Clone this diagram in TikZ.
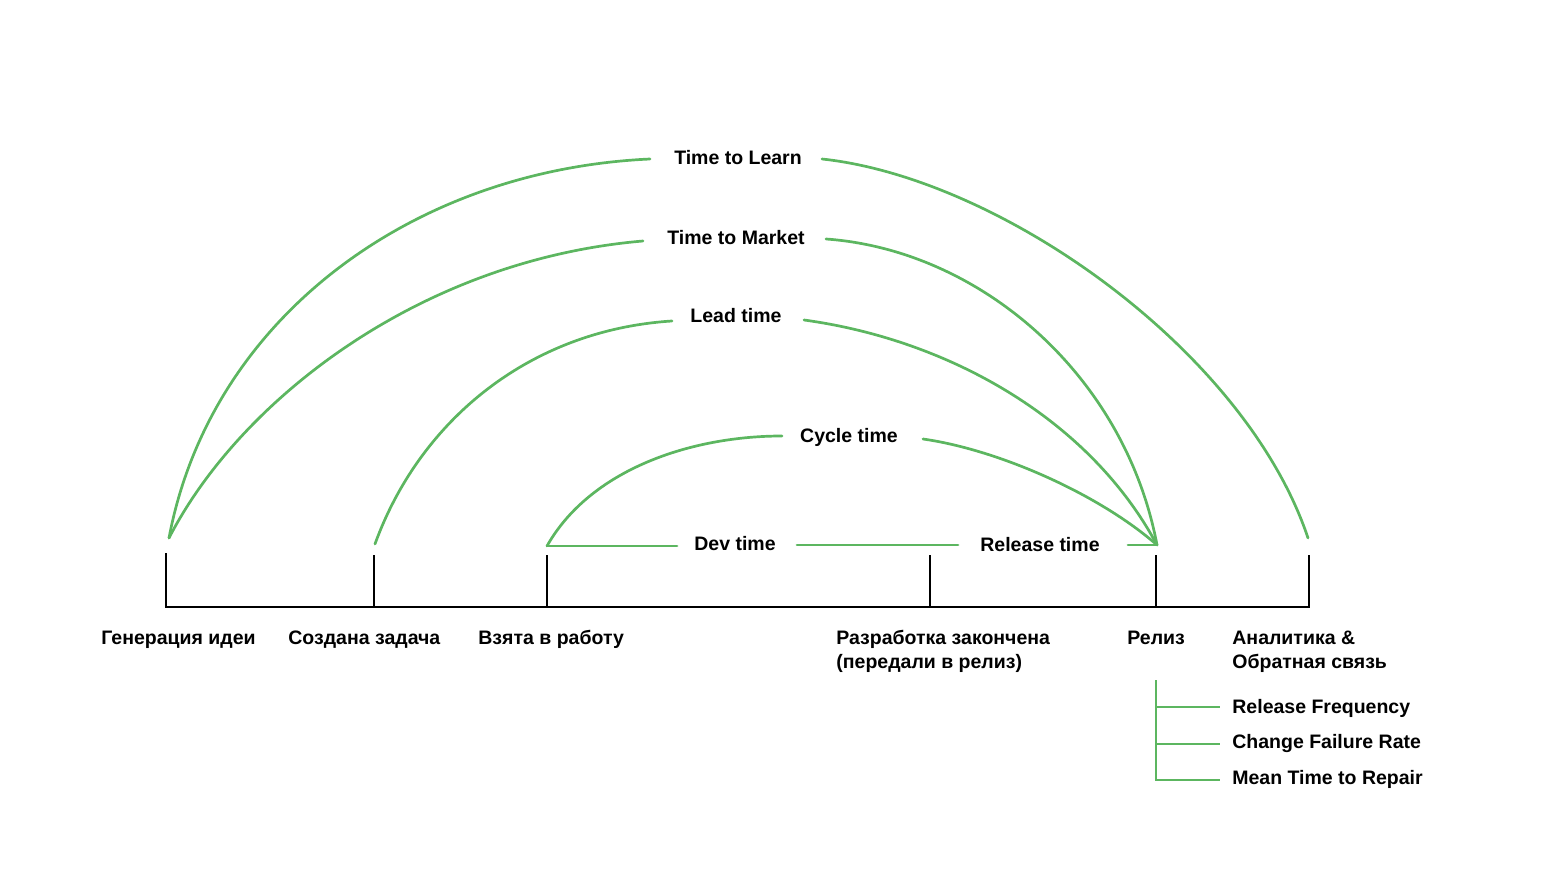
\documentclass[tikz,border=0pt]{standalone}
\usepackage{fontspec}
\setmainfont{Liberation Sans}
\definecolor{lgreen}{RGB}{92,182,96}
\begin{document}
\begin{tikzpicture}[x=0.5pt,y=-0.5pt,
  txt/.style={font=\fontsize{9.75}{12}\selectfont\bfseries, inner sep=0pt},
  lbl/.style={txt, anchor=base west},
  arclbl/.style={txt, anchor=base},
  gline/.style={draw=lgreen, line width=1.35pt, line cap=round},
  bline/.style={draw=black, line width=1pt}]
\useasboundingbox (0,0) rectangle (1560,877);
% timeline
\coordinate (t0) at (166,553);
\coordinate (t0b) at (166,607);
\coordinate (t5) at (1309,555);
\coordinate (t5b) at (1309,607);
\draw[bline] (t0) -- (t0b) -- (t5b) -- (t5);
\foreach \n/\x in {t1/374,t2/547,t3/930,t4/1156}{
  \coordinate (\n) at (\x,555);
  \coordinate (\n b) at (\x,607);
  \draw[bline] (\n) -- (\n b);
}
% stage labels
\node[lbl] (s0) at (101,644) {Генерация идеи};
\node[lbl] (s1) at (288,644) {Создана задача};
\node[lbl] (s2) at (478,644) {Взята в работу};
\node[lbl] (s3) at (836,644) {\begin{tabular}[t]{@{}l@{}}Разработка закончена\\(передали в релиз)\end{tabular}};
\node[lbl] (s4) at (1127,644) {Релиз};
\node[lbl] (s5) at (1232,644) {\begin{tabular}[t]{@{}l@{}}Аналитика \&\\Обратная связь\end{tabular}};
% arc endpoints
\coordinate (a0) at (169,538);
\coordinate (a1) at (375,544);
\coordinate (a2) at (547,546);
\coordinate (a4) at (1157,545);
\coordinate (a5) at (1308,538);
% arc labels
\node[arclbl] (ttl) at (738,165) {Time to Learn};
\node[arclbl] (ttm) at (736,245) {Time to Market};
\node[arclbl] (lt) at (736,323) {Lead time};
\node[arclbl] (ct) at (849,443) {Cycle time};
\node[arclbl] (dt) at (735,551) {Dev time};
\node[arclbl] (rt) at (1040,552) {Release time};
% gap ends
\coordinate (ttlL) at (650,159);
\coordinate (ttlR) at (822,159);
\coordinate (ttmL) at (643,241);
\coordinate (ttmR) at (826,239);
\coordinate (ltL) at (672,321);
\coordinate (ltR) at (804,320);
\coordinate (ctL) at (782,436);
\coordinate (ctR) at (923,439);
\coordinate (dtL) at (677,546);
\coordinate (dtR) at (797,545);
\coordinate (rtL) at (958,545);
\coordinate (rtR) at (1128,545);
% arcs
\draw[gline] (a0) .. controls (210,320) and (410,170) .. (ttlL);
\draw[gline] (ttlR) .. controls (1000,178) and (1245,350) .. (a5);
\draw[gline] (a0) .. controls (240,400) and (420,260) .. (ttmL);
\draw[gline] (ttmR) .. controls (980,250) and (1125,375) .. (a4);
\draw[gline] (a1) .. controls (420,420) and (530,330) .. (ltL);
\draw[gline] (ltR) .. controls (950,340) and (1090,420) .. (a4);
\draw[gline] (a2) .. controls (590,470) and (690,436) .. (ctL);
\draw[gline] (ctR) .. controls (1000,450) and (1100,495) .. (a4);
\draw[gline] (a2) -- (dtL);
\draw[gline] (dtR) -- (rtL);
\draw[gline] (rtR) -- (a4);
% metrics
\coordinate (m0) at (1156,680);
\coordinate (m1) at (1156,707);
\coordinate (m2) at (1156,744);
\coordinate (m3) at (1156,780);
\coordinate (e1) at (1220,707);
\coordinate (e2) at (1220,744);
\coordinate (e3) at (1220,780);
\draw[gline, line cap=butt] (m0) -- (m3) -- (e3);
\draw[gline, line cap=butt] (m1) -- (e1);
\draw[gline, line cap=butt] (m2) -- (e2);
\node[lbl] (r1) at (1232,713) {Release Frequency};
\node[lbl] (r2) at (1232,748) {Change Failure Rate};
\node[lbl] (r3) at (1232,784) {Mean Time to Repair};
\end{tikzpicture}
\end{document}
